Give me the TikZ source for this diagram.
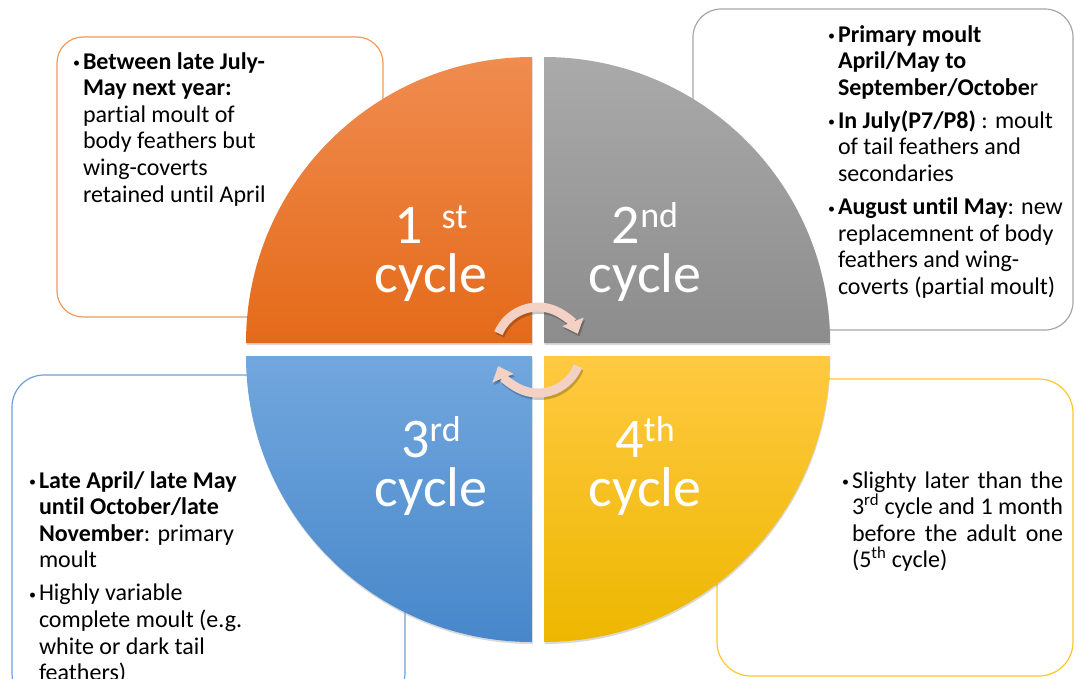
\documentclass[tikz,border=0pt]{standalone}
\usepackage{fontspec}
\setmainfont{Carlito}[Ligatures=NoCommon]
\usetikzlibrary{arrows.meta,calc,shadows}

% palette
\definecolor{orangeTop}{HTML}{F08C50}
\definecolor{orangeBot}{HTML}{E46A19}
\definecolor{grayTop}{HTML}{AAAAAA}
\definecolor{grayBot}{HTML}{8C8C8C}
\definecolor{blueTop}{HTML}{72A7DE}
\definecolor{blueBot}{HTML}{4787CA}
\definecolor{yellowTop}{HTML}{FFC942}
\definecolor{yellowBot}{HTML}{EDB700}
\definecolor{lineOrange}{HTML}{F19A5A}
\definecolor{lineGray}{HTML}{A6A6A6}
\definecolor{lineBlue}{HTML}{6C9FD6}
\definecolor{lineYellow}{HTML}{FFC72A}
\definecolor{arrowPink}{HTML}{F3D1C5}

% bullet paragraph with hanging indent
\newcommand\dotmark{\makebox[11pt][l]{\hspace{1pt}\raisebox{1.5pt}{\fontsize{14}{14}\selectfont\textbullet}}}
\newcommand\bpoint[1]{\par\hangindent=11pt\hangafter=1\noindent\dotmark#1}
\newcommand\bgap{\par\vskip6.5pt}
\newcommand\nl{\newline}
% note body: a top-aligned block so the node's base is the first baseline
\newenvironment{notebody}[1]{\begin{minipage}[t]{#1}\fontsize{24}{26.6}\selectfont\raggedright}{\end{minipage}}
\newenvironment{jnotebody}[1]{\begin{minipage}[t]{#1}\fontsize{24}{26.6}\selectfont}{\end{minipage}}

\begin{document}
\begin{tikzpicture}[x=1pt,y=-1pt,
  infobox/.style={draw=#1, line width=1.2pt, fill=white},
  quad/.style={drop shadow={shadow xshift=0.5pt, shadow yshift=-2pt, opacity=0.3}},
  note/.style={anchor=base west, inner sep=0pt, outer sep=0pt},
  cyclabel/.style={anchor=base, inner sep=0pt, text width=220pt, align=center,
    text=white, font=\fontsize{56}{49}\selectfont},
  cyc/.style={line width=9pt, draw=arrowPink, -{Triangle[width=22pt,length=13pt]}},
  cycshadow/.style={line width=9pt, draw=black, opacity=0.22, -{Triangle[width=22pt,length=13pt]}}
]
\clip (0,0) rectangle (1074,678);

% text boxes behind the wheel
\draw[infobox=lineOrange, rounded corners=26pt] (57,37) rectangle (383,317);
\draw[infobox=lineGray, rounded corners=28pt] (693,9) rectangle (1073,330);
\draw[infobox=lineBlue, rounded corners=32pt] (12,375) rectangle (405,705);
\draw[infobox=lineYellow, rounded corners=34pt] (717,379) rectangle (1073,676);

% the four quarters of the wheel
\coordinate (q1) at (532,343);
\coordinate (q2) at (544,343);
\coordinate (q3) at (532,356);
\coordinate (q4) at (544,356);
\path[quad, top color=orangeTop, bottom color=orangeBot]
  (q1) -- ++(-286pt,0pt) arc[start angle=180, end angle=90, radius=286pt] -- cycle;
\path[quad, top color=grayTop, bottom color=grayBot]
  (q2) -- ++(0pt,286pt) arc[start angle=90, end angle=0, radius=286pt] -- cycle;
\path[quad, top color=blueTop, bottom color=blueBot]
  (q3) -- ++(-286pt,0pt) arc[start angle=180, end angle=270, radius=286pt] -- cycle;
\path[quad, top color=yellowTop, bottom color=yellowBot]
  (q4) -- ++(286pt,0pt) arc[start angle=0, end angle=-90, radius=286pt] -- cycle;

% quarter labels
\node[cyclabel] (l1) at (431,243) {1 \raisebox{15pt}{\fontsize{36}{36}\selectfont st}\\cycle};
\node[cyclabel] (l2) at (645,243) {2\raisebox{16pt}{\fontsize{36}{36}\selectfont nd}\\cycle};
\node[cyclabel] (l3) at (431,457) {3\raisebox{16pt}{\fontsize{36}{36}\selectfont rd}\\cycle};
\node[cyclabel] (l4) at (645,457) {4\raisebox{16pt}{\fontsize{36}{36}\selectfont th}\\cycle};

% circular arrows in the middle
\coordinate (ac) at (538,350);
\draw[cycshadow] ($(ac)+(157:43pt)+(1.5pt,-2.5pt)$) arc[start angle=157, end angle=22, radius=43pt];
\draw[cycshadow] ($(ac)+(-22:43pt)+(1.5pt,-2.5pt)$) arc[start angle=-22, end angle=-158, radius=43pt];
\draw[cyc] ($(ac)+(157:43pt)$) arc[start angle=157, end angle=22, radius=43pt];
\draw[cyc] ($(ac)+(-22:43pt)$) arc[start angle=-22, end angle=-158, radius=43pt];

% notes
\node[note] (t1) at (72,69) {\begin{notebody}{300pt}%
  \bpoint{\textbf{Between late July-}\nl\textbf{May next year:}\nl partial moult of\nl body feathers but\nl wing-coverts\nl retained until April}%
  \end{notebody}};

\node[note] (t2) at (827,42) {\begin{notebody}{240pt}%
  \bpoint{\textbf{Primary moult}\nl\textbf{April/May to}\nl\textbf{September/Octobe}r}\bgap
  \bpoint{\textbf{In July(P7/P8)} : moult\nl of tail feathers and\nl secondaries}\bgap
  \bpoint{\textbf{August until May}: new\nl replacemnent of body\nl feathers and wing-\nl coverts (partial moult)}%
  \end{notebody}};

\node[note] (t3) at (28,488) {\begin{notebody}{340pt}%
  \bpoint{\textbf{Late April/ late May}\nl\textbf{until October/late}\nl\textbf{November}: primary\nl moult}\bgap
  \bpoint{Highly variable\nl complete moult (e.g.\nl white or dark tail\nl feathers)}%
  \end{notebody}};

\node[note] (t4) at (841,488) {\begin{jnotebody}{222pt}%
  \bpoint{Slighty later than the\linebreak 3\textsuperscript{rd} cycle and 1 month\linebreak before the adult one\linebreak (5\textsuperscript{th} cycle)}%
  \end{jnotebody}};
\end{tikzpicture}
\end{document}
